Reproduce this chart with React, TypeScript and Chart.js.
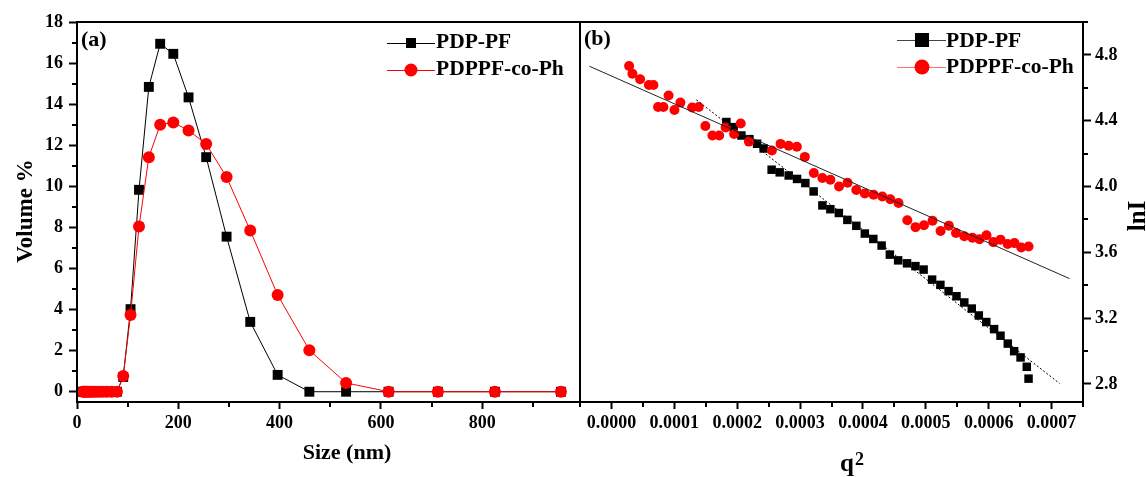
import React, { useEffect, useRef } from 'react';
import { Chart, registerables } from 'chart.js';
Chart.register(...registerables);

const FONT = '"Liberation Serif", "Times New Roman", serif';

// ---------- Panel (a): DLS size distribution ----------
const sizeNm = [11.70, 13.54, 15.69, 18.17, 21.04, 24.36, 28.21, 32.67, 37.84, 43.82, 50.75, 58.77, 68.06, 78.82,
  91.28, 105.7, 122.4, 141.8, 164.2, 190.1, 220.2, 255.0, 295.3, 342.0, 396.1, 458.7, 531.2, 615.1, 712.4, 825.0, 955.4];
const volumePDPPF = [0, 0, 0, 0, 0, 0, 0, 0, 0, 0, 0, 0, 0, 0,
  0.72, 4.02, 9.83, 14.84, 16.94, 16.45, 14.33, 11.42, 7.55, 3.40, 0.82, 0, 0, 0, 0, 0, 0];
const volumeCoPh = [0, 0, 0, 0, 0, 0, 0, 0, 0, 0, 0, 0, 0, 0,
  0.77, 3.73, 8.04, 11.42, 13.0, 13.11, 12.72, 12.06, 10.45, 7.85, 4.71, 2.02, 0.43, 0, 0, 0, 0];
const sizeTicks = [0, 200, 400, 600, 800];
const sizeMinorTicks = [100, 300, 500, 700, 900];
const volumeTicks = [0, 2, 4, 6, 8, 10, 12, 14, 16, 18];
const volumeMinorTicks = [1, 3, 5, 7, 9, 11, 13, 15, 17];

// ---------- Panel (b): Guinier plot ----------
const q2PF = [0.0001828, 0.0001944, 0.0002067, 0.0002194, 0.0002316, 0.0002421, 0.0002548, 0.0002676, 0.0002819, 0.0002952,
  0.0003084, 0.0003216, 0.0003355, 0.0003482, 0.0003617, 0.0003752, 0.0003895, 0.0004030, 0.0004165, 0.0004297,
  0.0004428, 0.0004560, 0.0004701, 0.0004835, 0.0004965, 0.0005100, 0.0005232, 0.0005362, 0.0005488, 0.0005612,
  0.0005731, 0.0005843, 0.0005962, 0.0006086, 0.0006188, 0.0006304, 0.0006405, 0.0006507, 0.0006606, 0.0006634];
const lnIPF = [4.392, 4.361, 4.310, 4.288, 4.260, 4.231, 4.102, 4.086, 4.067, 4.046,
  4.021, 3.970, 3.885, 3.862, 3.839, 3.797, 3.761, 3.714, 3.681, 3.641,
  3.586, 3.551, 3.533, 3.516, 3.495, 3.434, 3.402, 3.364, 3.333, 3.295,
  3.258, 3.216, 3.176, 3.133, 3.093, 3.045, 2.999, 2.961, 2.904, 2.832];
const q2CoPh = [0.0000281, 0.0000334, 0.0000456, 0.0000596, 0.0000668, 0.0000742, 0.0000827, 0.0000909, 0.0001002, 0.0001097,
  0.0001283, 0.0001388, 0.0001494, 0.0001606, 0.0001714, 0.0001817, 0.0001951, 0.0002056, 0.0002186, 0.0002552,
  0.0002690, 0.0002819, 0.0002949, 0.0003076, 0.0003219, 0.0003355, 0.0003482, 0.0003620, 0.0003755, 0.0003895,
  0.0004030, 0.0004170, 0.0004308, 0.0004436, 0.0004566, 0.0004706, 0.0004836, 0.0004971, 0.0005107, 0.0005235,
  0.0005366, 0.0005480, 0.0005612, 0.0005742, 0.0005854, 0.0005965, 0.0006073, 0.0006188, 0.0006302, 0.0006410,
  0.0006518, 0.0006634];
const lnICoPh = [4.733, 4.685, 4.652, 4.617, 4.617, 4.483, 4.483, 4.553, 4.465, 4.510,
  4.480, 4.483, 4.368, 4.310, 4.310, 4.359, 4.319, 4.383, 4.273, 4.219,
  4.259, 4.248, 4.242, 4.180, 4.082, 4.052, 4.041, 4.000, 4.023, 3.979,
  3.958, 3.950, 3.939, 3.922, 3.900, 3.795, 3.753, 3.764, 3.792, 3.730,
  3.762, 3.717, 3.698, 3.688, 3.680, 3.704, 3.662, 3.677, 3.650, 3.656,
  3.629, 3.635];
const fitPFq2 = [0.0001351, 0.0007127];
const fitPFlnI = [4.527, 2.803];
const fitCoPhq2 = [-0.000035, 0.0007286];
const fitCoPhlnI = [4.731, 3.440];
const q2Ticks = [0, 0.0001, 0.0002, 0.0003, 0.0004, 0.0005, 0.0006, 0.0007];
const q2MinorTicks = [-0.00005, 0.00005, 0.00015, 0.00025, 0.00035, 0.00045, 0.00055, 0.00065, 0.00075];
const lnITicks = [2.8, 3.2, 3.6, 4.0, 4.4, 4.8];
const lnIMinorTicks = [3.0, 3.4, 3.8, 4.2, 4.6, 5.0];

const seriesNames = ['PDP-PF', 'PDPPF-co-Ph'];

const toPts = (xs: number[], ys: number[]) => xs.map((x, i) => ({ x, y: ys[i] }));

type MinorSpec = { id: string; values: number[] };
type LegendSpec = {
  x0: number; x1: number; mx: number; tx: number;
  rows: { y: number; base: number; line: string; color: string; shape: 'rect' | 'circle'; size: number; label: string }[];
};
type TextSpec = { text: string; x: number; y: number; size: number; rot?: boolean; align?: CanvasTextAlign };

function makeDecor(id: string, minors: MinorSpec[], legend: LegendSpec, texts: TextSpec[]) {
  return {
    id,
    afterDraw(chart: any) {
      const ctx: CanvasRenderingContext2D = chart.ctx;
      const a = chart.chartArea;
      ctx.save();
      ctx.strokeStyle = '#000';
      ctx.lineWidth = 2;
      ctx.strokeRect(a.left, a.top, a.right - a.left, a.bottom - a.top);
      // minor ticks
      ctx.beginPath();
      minors.forEach((m) => {
        const s = chart.scales[m.id];
        m.values.forEach((v) => {
          const p = Math.round(s.getPixelForValue(v));
          if (s.isHorizontal()) {
            ctx.moveTo(p, a.bottom); ctx.lineTo(p, a.bottom + 5);
          } else if (s.position === 'left') {
            ctx.moveTo(a.left, p); ctx.lineTo(a.left - 5, p);
          } else {
            ctx.moveTo(a.right, p); ctx.lineTo(a.right + 5, p);
          }
        });
      });
      ctx.stroke();
      // legend
      legend.rows.forEach((r) => {
        ctx.strokeStyle = r.line;
        ctx.lineWidth = 1;
        ctx.beginPath();
        ctx.moveTo(legend.x0, r.y + 0.5); ctx.lineTo(legend.x1, r.y + 0.5);
        ctx.stroke();
        ctx.fillStyle = r.color;
        if (r.shape === 'rect') {
          ctx.fillRect(legend.mx - r.size / 2, r.y - r.size / 2, r.size, r.size);
        } else {
          ctx.beginPath();
          ctx.arc(legend.mx, r.y, r.size / 2, 0, Math.PI * 2);
          ctx.fill();
        }
        ctx.fillStyle = '#000';
        ctx.font = `bold 21.5px ${FONT}`;
        ctx.textAlign = 'left';
        ctx.textBaseline = 'alphabetic';
        ctx.fillText(r.label, legend.tx, r.base);
      });
      // texts
      texts.forEach((t) => {
        ctx.save();
        ctx.fillStyle = '#000';
        ctx.font = `bold ${t.size}px ${FONT}`;
        ctx.textBaseline = 'alphabetic';
        ctx.textAlign = t.align || 'left';
        ctx.translate(t.x, t.y);
        if (t.rot) ctx.rotate(-Math.PI / 2);
        ctx.fillText(t.text, 0, 0);
        ctx.restore();
      });
      ctx.restore();
    },
  };
}

const tickFont = { family: FONT, size: 18, weight: 'bold' as const };

function axisBase(ticks: number[], fmt: (v: number) => string, tickLength: number, padding: number) {
  return {
    type: 'linear' as const,
    afterBuildTicks: (s: any) => { s.ticks = ticks.map((v) => ({ value: v })); },
    grid: { display: true, drawOnChartArea: false, drawTicks: true, tickLength, tickWidth: 2, tickColor: '#000', color: '#000' },
    border: { display: false },
    ticks: { font: tickFont, color: '#000', padding, maxRotation: 0, autoSkip: false, callback: (v: any) => fmt(Number(v)) },
  };
}

export default function App() {
  const refA = useRef<HTMLCanvasElement>(null);
  const refB = useRef<HTMLCanvasElement>(null);

  useEffect(() => {
    const decorA = makeDecor('decorA',
      [{ id: 'x', values: sizeMinorTicks }, { id: 'y', values: volumeMinorTicks }],
      {
        x0: 387, x1: 435, mx: 411, tx: 436,
        rows: [
          { y: 43, base: 48, line: '#000', color: '#000', shape: 'rect', size: 10, label: seriesNames[0] },
          { y: 70, base: 75, line: '#ff0000', color: '#ff0000', shape: 'circle', size: 13, label: seriesNames[1] },
        ],
      },
      [
        { text: '(a)', x: 81, y: 46, size: 22 },
        { text: 'Volume %', x: 32, y: 211, size: 23, rot: true, align: 'center' },
        { text: 'Size (nm)', x: 347, y: 459, size: 22, align: 'center' },
      ]);

    const chartA = new Chart(refA.current!, {
      type: 'scatter',
      data: {
        datasets: [
          {
            label: seriesNames[1], data: toPts(sizeNm, volumeCoPh), showLine: true, order: 0,
            borderColor: '#ff0000', borderWidth: 1, pointStyle: 'circle', pointRadius: 6,
            pointBackgroundColor: '#ff0000', pointBorderWidth: 0,
          },
          {
            label: seriesNames[0], data: toPts(sizeNm, volumePDPPF), showLine: true, order: 1,
            borderColor: '#000', borderWidth: 1, pointStyle: 'rect', pointRadius: 7,
            pointBackgroundColor: '#000', pointBorderWidth: 0,
          },
        ],
      },
      options: {
        animation: false, responsive: false, devicePixelRatio: 1,
        layout: { padding: { left: 0, right: 20, top: 22, bottom: 0 } },
        plugins: { legend: { display: false }, tooltip: { enabled: false } },
        scales: {
          x: { ...axisBase(sizeTicks, (v) => String(v), 7, 4), min: 0, max: 993, position: 'bottom',
            afterFit: (s: any) => { s.height = 75; } },
          y: { ...axisBase(volumeTicks, (v) => String(v), 8, 6), min: -0.5, max: 18, position: 'left',
            afterFit: (s: any) => { s.width = 77; } },
        },
      } as any,
      plugins: [decorA],
    });

    const decorB = makeDecor('decorB',
      [{ id: 'x', values: q2MinorTicks }, { id: 'y', values: lnIMinorTicks }],
      {
        x0: 337, x1: 386, mx: 362, tx: 386,
        rows: [
          { y: 40, base: 46.5, line: '#444', color: '#000', shape: 'rect', size: 14, label: seriesNames[0] },
          { y: 67, base: 72.5, line: '#ff7070', color: '#ff0000', shape: 'circle', size: 15, label: seriesNames[1] },
        ],
      },
      [
        { text: '(b)', x: 24, y: 45, size: 22 },
        { text: 'lnI', x: 585, y: 216, size: 25, rot: true, align: 'center' },
        { text: 'q', x: 280, y: 471, size: 25 },
        { text: '2', x: 295, y: 465, size: 18 },
      ]);

    const chartB = new Chart(refB.current!, {
      type: 'scatter',
      data: {
        datasets: [
          {
            label: 'fit ' + seriesNames[1], data: toPts(fitCoPhq2, fitCoPhlnI), showLine: true, order: -2,
            borderColor: '#222', borderWidth: 1, pointRadius: 0,
          },
          {
            label: 'fit ' + seriesNames[0], data: toPts(fitPFq2, fitPFlnI), showLine: true, order: -1,
            borderColor: '#000', borderWidth: 1, borderDash: [2, 2], pointRadius: 0,
          },
          {
            label: seriesNames[1], data: toPts(q2CoPh, lnICoPh), showLine: false, order: 0,
            pointStyle: 'circle', pointRadius: 5, pointBackgroundColor: '#ff0000', pointBorderWidth: 0,
          },
          {
            label: seriesNames[0], data: toPts(q2PF, lnIPF), showLine: false, order: 1,
            pointStyle: 'rect', pointRadius: 6, pointBackgroundColor: '#000', pointBorderWidth: 0,
          },
        ],
      },
      options: {
        animation: false, responsive: false, devicePixelRatio: 1,
        layout: { padding: { left: 20, right: 0, top: 22, bottom: 0 } },
        plugins: { legend: { display: false }, tooltip: { enabled: false } },
        scales: {
          x: { ...axisBase(q2Ticks, (v) => v.toFixed(4), 7, 4), min: -0.00005, max: 0.00075, position: 'bottom',
            afterFit: (s: any) => { s.height = 75; } },
          y: { ...axisBase(lnITicks, (v) => v.toFixed(1), 8, 4), min: 2.69, max: 5.0, position: 'right',
            afterFit: (s: any) => { s.width = 63; } },
        },
      } as any,
      plugins: [decorB],
    });

    return () => { chartA.destroy(); chartB.destroy(); };
  }, []);

  return (
    <div style={{ position: 'fixed', left: 0, top: 0, width: 1146, height: 477, background: '#fff' }}>
      <canvas ref={refA} width={600} height={477} style={{ position: 'absolute', left: 0, top: 0 }} />
      <canvas ref={refB} width={586} height={477} style={{ position: 'absolute', left: 560, top: 0 }} />
    </div>
  );
}
